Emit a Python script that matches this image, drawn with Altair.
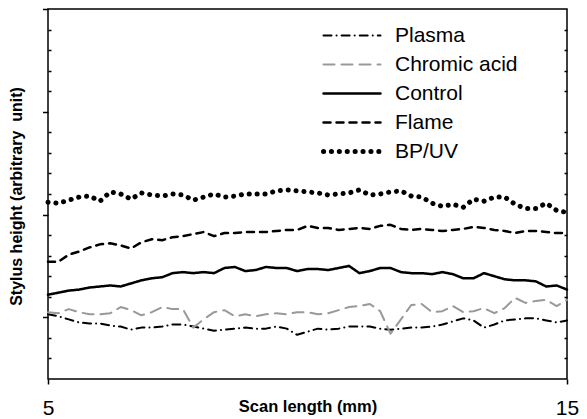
import altair as alt
import pandas as pd

# Scan length positions (mm)
x_mm = [5.0, 5.2, 5.4, 5.6, 5.8, 6.0, 6.2, 6.4, 6.6, 6.8,
        7.0, 7.2, 7.4, 7.6, 7.8, 8.0, 8.2, 8.4, 8.6, 8.8,
        9.0, 9.2, 9.4, 9.6, 9.8, 10.0, 10.2, 10.4, 10.6, 10.8,
        11.0, 11.2, 11.4, 11.6, 11.8, 12.0, 12.2, 12.4, 12.6, 12.8,
        13.0, 13.2, 13.4, 13.6, 13.8, 14.0, 14.2, 14.4, 14.6, 14.8, 15.0]

plasma = [0.03, 0.01, -0.02, -0.05, -0.06, -0.06, -0.08, -0.09, -0.12, -0.10,
          -0.10, -0.09, -0.07, -0.07, -0.09, -0.11, -0.13, -0.12, -0.11, -0.10,
          -0.11, -0.11, -0.09, -0.11, -0.17, -0.14, -0.11, -0.12, -0.11, -0.09,
          -0.09, -0.09, -0.11, -0.12, -0.11, -0.10, -0.10, -0.09, -0.07, -0.04,
          -0.01, -0.03, -0.10, -0.07, -0.03, -0.02, -0.01, -0.01, -0.03, -0.05, -0.03]

chromic = [0.05, 0.04, 0.08, 0.05, 0.03, 0.03, 0.04, 0.10, 0.07, 0.02,
           0.05, 0.10, 0.08, 0.08, -0.10, -0.02, 0.05, 0.07, 0.01, 0.03,
           0.01, 0.03, 0.04, 0.03, 0.05, 0.05, 0.03, 0.04, 0.07, 0.10,
           0.11, 0.13, 0.06, -0.16, -0.02, 0.12, 0.13, 0.05, 0.06, 0.11,
           0.05, 0.06, 0.09, 0.04, 0.09, 0.19, 0.14, 0.16, 0.17, 0.11, 0.17]

control = [0.22, 0.24, 0.26, 0.27, 0.29, 0.30, 0.31, 0.30, 0.33, 0.36,
           0.38, 0.39, 0.43, 0.44, 0.43, 0.44, 0.43, 0.48, 0.49, 0.45,
           0.46, 0.49, 0.48, 0.48, 0.45, 0.47, 0.47, 0.46, 0.48, 0.50,
           0.43, 0.45, 0.48, 0.48, 0.44, 0.43, 0.43, 0.42, 0.44, 0.42,
           0.38, 0.38, 0.43, 0.40, 0.37, 0.36, 0.36, 0.35, 0.30, 0.31, 0.27]

flame = [0.54, 0.54, 0.61, 0.64, 0.68, 0.71, 0.72, 0.70, 0.67, 0.73,
         0.76, 0.75, 0.78, 0.79, 0.81, 0.83, 0.79, 0.82, 0.82, 0.83,
         0.83, 0.83, 0.84, 0.85, 0.85, 0.89, 0.87, 0.87, 0.85, 0.86,
         0.87, 0.86, 0.89, 0.90, 0.86, 0.85, 0.86, 0.85, 0.84, 0.85,
         0.86, 0.88, 0.87, 0.85, 0.84, 0.82, 0.84, 0.84, 0.83, 0.82, 0.82]

bpuv = [1.12, 1.11, 1.14, 1.17, 1.18, 1.13, 1.22, 1.20, 1.15, 1.21,
        1.19, 1.18, 1.20, 1.19, 1.14, 1.17, 1.20, 1.17, 1.18, 1.20,
        1.20, 1.20, 1.23, 1.24, 1.23, 1.22, 1.21, 1.19, 1.20, 1.21,
        1.24, 1.19, 1.20, 1.22, 1.23, 1.18, 1.17, 1.11, 1.08, 1.10,
        1.07, 1.15, 1.13, 1.17, 1.17, 1.10, 1.06, 1.06, 1.11, 1.04, 1.02]

series_names = ["Plasma", "Chromic acid", "Control", "Flame", "BP/UV"]
series_values = [plasma, chromic, control, flame, bpuv]
series_colors = ["#000000", "#999999", "#000000", "#000000", "#000000"]
series_dashes = [[8, 5, 0.1, 5], [11, 7], [1, 0], [7, 6], [0.1, 7.8]]
series_widths = [2, 2, 2.5, 2.5, 5]

x_ticks = [5, 15]
major_ticks = [0, 1, 2, 3]
minor_ticks = [-0.4, -0.2, 0.2, 0.4, 0.6, 0.8, 1.2, 1.4, 1.6, 1.8, 2.2, 2.4, 2.6, 2.8]

for s in series_values:
    assert len(s) == len(x_mm)

rows = []
for name, vals in zip(series_names, series_values):
    for xv, yv in zip(x_mm, vals):
        rows.append({"x": xv, "y": yv, "series": name})
df = pd.DataFrame(rows)
ticks_df = pd.DataFrame({"v": minor_ticks})

W, H = 519, 370
FONT = "Liberation Sans"

x_scale = alt.Scale(domain=[5, 15], nice=False, zero=False)
y_scale = alt.Scale(domain=[-0.6, 3.0], nice=False, zero=False)

leg = alt.Legend(
    title=None, orient="none", legendX=273, legendY=16,
    symbolType="stroke", symbolSize=3249, symbolOffset=0,
    labelFontSize=21, labelFont=FONT, labelColor="black", labelOffset=12,
    clipHeight=21, rowPadding=7, padding=0,
)

lines = alt.Chart(df).mark_line(strokeCap="round", strokeJoin="round").encode(
    x=alt.X("x:Q", scale=x_scale,
            axis=alt.Axis(values=x_ticks, format="d", tickSize=5, labelFontSize=21,
                          labelPadding=30, labelBaseline="alphabetic", labelFlush=False,
                          labelAlign="center", labelBound=False,
                          title="Scan length (mm)", titleFontSize=16.5, titleFontWeight="bold",
                          titleY=32, titleBaseline="alphabetic")),
    y=alt.Y("y:Q", scale=y_scale,
            axis=alt.Axis(values=major_ticks, labels=False, tickSize=5.5,
                          title="Stylus height (arbitrary\u00a0 unit)", titleFontSize=16,
                          titleFontWeight="bold", titleX=-32, titleY=187,
                          titleBaseline="middle", titleAngle=270)),
    color=alt.Color("series:N", scale=alt.Scale(domain=series_names, range=series_colors), legend=leg),
    strokeDash=alt.StrokeDash("series:N", scale=alt.Scale(domain=series_names, range=series_dashes), legend=leg),
    strokeWidth=alt.StrokeWidth("series:N", scale=alt.Scale(type="ordinal", domain=series_names, range=series_widths), legend=leg),
)

inner_left = alt.Chart(ticks_df).mark_point(opacity=0).encode(
    y=alt.Y("v:Q", scale=y_scale,
            axis=alt.Axis(orient="right", offset=-W, values=minor_ticks, labels=False,
                          tickSize=3, title=None))
)

inner_right = alt.Chart(ticks_df).mark_point(opacity=0).encode(
    y=alt.Y("v:Q", scale=y_scale,
            axis=alt.Axis(orient="left", offset=-W, values=minor_ticks, labels=False,
                          tickSize=3, title=None))
)

chart = alt.layer(lines, inner_left, inner_right).resolve_scale(
    y="independent"
).properties(
    width=W, height=H,
    padding={"left": 40, "top": 1, "right": 12, "bottom": 39},
    autosize=alt.AutoSizeParams(type="none"),
).configure(
    font=FONT,
).configure_view(
    stroke="black", strokeWidth=1.5,
).configure_axis(
    grid=False, domain=False, tickColor="black", tickWidth=1.5,
    labelColor="black", titleColor="black", labelFont=FONT, titleFont=FONT,
)

# round caps for the legend's line symbols (so the dotted and dash-dot samples show)
legend_patch = [
    {"op": "add", "path": "/legends/0/encode",
     "value": {"symbols": {"update": {"strokeCap": {"value": "round"}}}}}
]

chart.save("out.html", embed_options={"renderer": "svg", "actions": False, "patch": legend_patch})
